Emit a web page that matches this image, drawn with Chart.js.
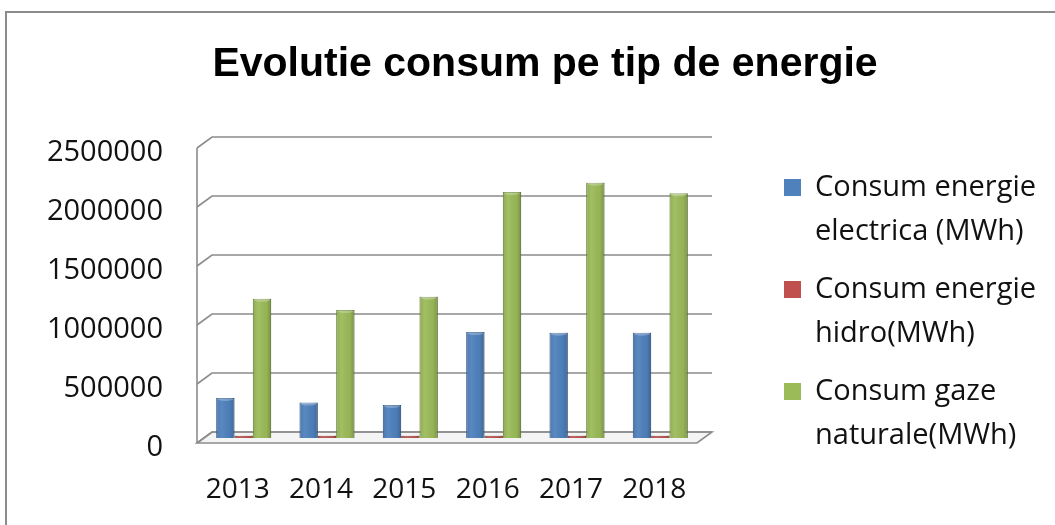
<!DOCTYPE html>
<html>
<head>
<meta charset="utf-8">
<script src="https://cdn.jsdelivr.net/npm/chart.js@4/dist/chart.umd.min.js"></script>
<style>
  html, body { margin: 0; padding: 0; background: #fff; overflow: hidden; }
  #frame { position: absolute; left: 5px; top: 11px; width: 1100px; height: 600px; border: 2px solid #8c8c8c; }
  #wrap { position: absolute; left: 0; top: 0; width: 1055px; height: 525px; }
</style>
</head>
<body>
<div id="frame"></div>
<div id="wrap"><canvas id="chart" width="1055" height="525"></canvas></div>
<script>
// ---- data ----
const years = ['2013', '2014', '2015', '2016', '2017', '2018'];
const electrica = [340000, 300000, 280000, 898000, 893000, 893000];
const hidro = [20000, 20000, 20000, 20000, 20000, 20000];
const gaze = [1180000, 1085000, 1198000, 2085000, 2164000, 2074000];
const yTicks = [0, 500000, 1000000, 1500000, 2000000, 2500000];
const seriesNames = [
  ['Consum energie', 'electrica (MWh)'],
  ['Consum energie', 'hidro(MWh)'],
  ['Consum gaze', 'naturale(MWh)']
];
const titleText = 'Evolutie consum pe tip de energie';

const fills = ['#4f81bd', '#c0504d', '#9bbb59'];
const edges = ['#3b6797', '#943c39', '#76913f'];

// ---- fake 3D walls: back gridlines, left wall and floor ----
const wallPlugin = {
  id: 'walls',
  beforeDatasetsDraw(chart) {
    const { ctx, chartArea, scales } = chart;
    const y = scales.y;
    const back = chartArea.left + 10;
    const front = chartArea.left - 5;
    const right = chartArea.right + 10;
    const y0 = y.getPixelForValue(0);
    ctx.save();
    ctx.strokeStyle = '#8c8c8c';
    ctx.lineWidth = 1.6;
    // floor slab
    ctx.fillStyle = '#f4f4f4';
    ctx.beginPath();
    ctx.moveTo(back, y0 - 6);
    ctx.lineTo(right, y0 - 6);
    ctx.lineTo(right - 15, y0 + 5);
    ctx.lineTo(front, y0 + 5);
    ctx.closePath();
    ctx.fill();
    ctx.stroke();
    // gridlines on the back wall + diagonals on the side wall
    yTicks.forEach(v => {
      const py = y.getPixelForValue(v);
      ctx.beginPath();
      ctx.moveTo(front, py + 5);
      ctx.lineTo(back, py - 6);
      ctx.lineTo(right, py - 6);
      ctx.stroke();
    });
    // left wall edge
    ctx.beginPath();
    ctx.moveTo(front, y.getPixelForValue(yTicks[yTicks.length - 1]) + 5);
    ctx.lineTo(front, y0 + 5);
    ctx.stroke();
    ctx.restore();
  }
};

// ---- cylinder-ish shading on top of the bars ----
const shadePlugin = {
  id: 'shade',
  afterDatasetsDraw(chart) {
    const ctx = chart.ctx;
    ctx.save();
    chart.data.datasets.forEach((ds, i) => {
      chart.getDatasetMeta(i).data.forEach(bar => {
        const left = bar.x - bar.width / 2;
        const h = bar.base - bar.y;
        const g = ctx.createLinearGradient(left, 0, left + bar.width, 0);
        g.addColorStop(0, 'rgba(0,0,0,0.10)');
        g.addColorStop(0.3, 'rgba(255,255,255,0.06)');
        g.addColorStop(0.75, 'rgba(0,0,0,0.04)');
        g.addColorStop(1, 'rgba(0,0,0,0.22)');
        ctx.fillStyle = g;
        ctx.fillRect(left, bar.y, bar.width, h);
        if (h > 6) {
          ctx.fillStyle = 'rgba(255,255,255,0.25)';
          ctx.beginPath();
          ctx.ellipse(bar.x, bar.y + 1, bar.width / 2 - 1, 2, 0, 0, Math.PI * 2);
          ctx.fill();
        }
      });
    });
    ctx.restore();
  }
};

// ---- title and legend with two-line labels ----
const sidePlugin = {
  id: 'sideLegend',
  afterDraw(chart) {
    const ctx = chart.ctx;
    ctx.save();
    ctx.fillStyle = '#000';
    ctx.font = 'bold 41px "Liberation Sans", Arial';
    ctx.textAlign = 'center';
    ctx.textBaseline = 'middle';
    ctx.fillText(titleText, 545, 65);

    ctx.font = '29px "Open Sans"';
    ctx.textAlign = 'left';
    chart.data.datasets.forEach((ds, i) => {
      const top = 188 + i * 102;
      ctx.fillStyle = ds.backgroundColor;
      ctx.fillRect(784, top - 9, 17, 17);
      ctx.fillStyle = '#111';
      ds.label.forEach((line, j) => {
        ctx.fillText(line, 815, top + j * 44);
      });
    });
    ctx.restore();
  }
};

const seriesData = [electrica, hidro, gaze];

new Chart(document.getElementById('chart'), {
  type: 'bar',
  data: {
    labels: years,
    datasets: seriesData.map((d, i) => ({
      label: seriesNames[i],
      data: d,
      backgroundColor: fills[i],
      borderColor: edges[i],
      borderWidth: 1,
      categoryPercentage: 0.66,
      barPercentage: 1.0
    }))
  },
  options: {
    responsive: false,
    animation: false,
    layout: {
      autoPadding: false,
      padding: { left: 0, right: 353, top: 143, bottom: 0 }
    },
    plugins: {
      legend: { display: false },
      tooltip: { enabled: false },
      title: { display: false }
    },
    scales: {
      x: {
        grid: { display: false, drawTicks: false },
        border: { display: false },
        afterFit(scale) { scale.height = 87; },
        ticks: {
          color: '#111',
          font: { family: '"Open Sans"', size: 28 },
          padding: 35,
          labelOffset: -6,
          maxRotation: 0
        }
      },
      y: {
        min: 0,
        max: 2500000,
        grid: { display: false, drawTicks: false },
        border: { display: false },
        afterFit(scale) { scale.width = 202; },
        ticks: {
          stepSize: 500000,
          color: '#111',
          font: { family: '"Open Sans"', size: 29 },
          padding: 39,
          labelOffset: 10,
          callback: v => String(v)
        }
      }
    }
  },
  plugins: [wallPlugin, shadePlugin, sidePlugin]
});
</script>
</body>
</html>
